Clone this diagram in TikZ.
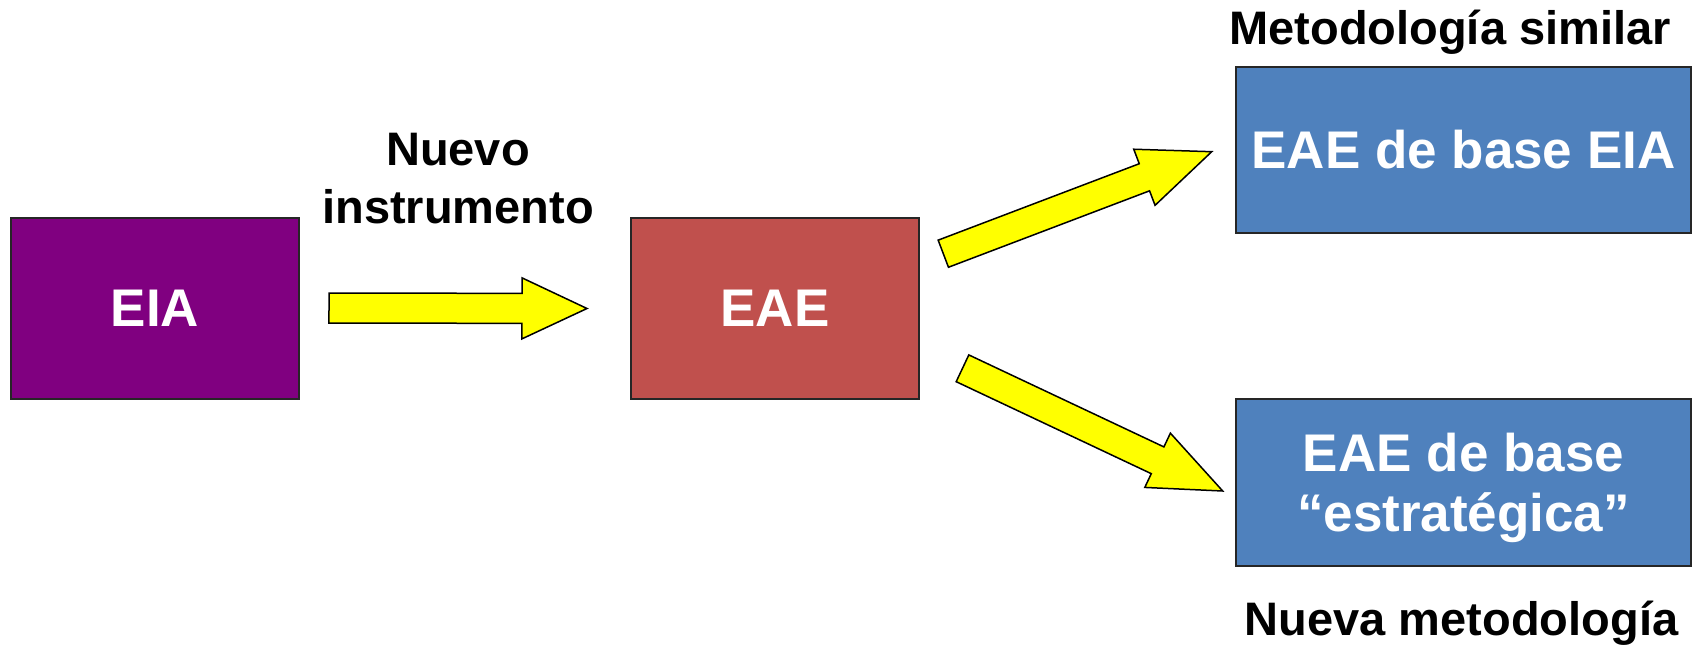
\documentclass[tikz,border=0pt]{standalone}
\usepackage{fontspec}
\setmainfont{Liberation Sans}
\usetikzlibrary{calc}
\definecolor{eiapurple}{RGB}{128,0,128}
\definecolor{eaered}{RGB}{192,80,77}
\definecolor{eaeblue}{RGB}{79,129,189}
\definecolor{arrowyellow}{RGB}{255,255,0}
% block arrow: tail, tip, shaft half width, head half width, head length
\newcommand{\blockarrow}[5]{%
  \coordinate (H) at ($(#2)!#5!(#1)$);
  \draw[barrow] ($(#1)!#3!90:(#2)$) -- ($(H)!#3!90:(#2)$) -- ($(H)!#4!90:(#2)$) -- (#2)
    -- ($(H)!#4!-90:(#2)$) -- ($(H)!#3!-90:(#2)$) -- ($(#1)!#3!-90:(#2)$) -- cycle;}
\begin{document}
\begin{tikzpicture}[x=0.5pt,y=-0.5pt,
  box/.style={draw=black!85, line width=0.9pt, inner sep=0pt, text=white,
    font=\bfseries\fontsize{26.5}{30}\selectfont, align=center},
  lbl/.style={font=\bfseries\fontsize{23.5}{29}\selectfont, align=center, inner sep=0pt},
  barrow/.style={draw=black, fill=arrowyellow, line width=0.75pt, line join=miter}]
\useasboundingbox (0,0) rectangle (1696,647);
\node[box, fill=eiapurple, minimum width=144pt, minimum height=90.5pt] (eia) at (155,308.5) {EIA};
\node[box, fill=eaered, minimum width=144pt, minimum height=90.5pt] (eae) at (775,308.5) {EAE};
\node[box, fill=eaeblue, minimum width=227.5pt, minimum height=83pt] (base) at (1463.5,150) {EAE de base EIA};
\node[box, fill=eaeblue, minimum width=227.5pt, minimum height=83.5pt, text depth=0pt] (estr) at (1463.5,482.5) {EAE de base\\“estratégica”};
\node[lbl] (nuevo) at (458,178.5) {Nuevo\\instrumento};
\node[lbl, anchor=base] (simil) at (1450,45) {Metodología similar};
\node[lbl, anchor=base] (nueva) at (1461.5,635) {Nueva metodología};
\coordinate (a1t) at (329,308);
\coordinate (a1h) at (587,308.5);
\coordinate (a2t) at (943.3,253.7);
\coordinate (a2h) at (1211.7,151.7);
\coordinate (a3t) at (962.5,368.3);
\coordinate (a3h) at (1222.7,491);
\blockarrow{a1t}{a1h}{7.5pt}{15.25pt}{32.5pt}
\blockarrow{a2t}{a2h}{7.25pt}{15pt}{36pt}
\blockarrow{a3t}{a3h}{7.4pt}{15pt}{36pt}
\end{tikzpicture}
\end{document}
